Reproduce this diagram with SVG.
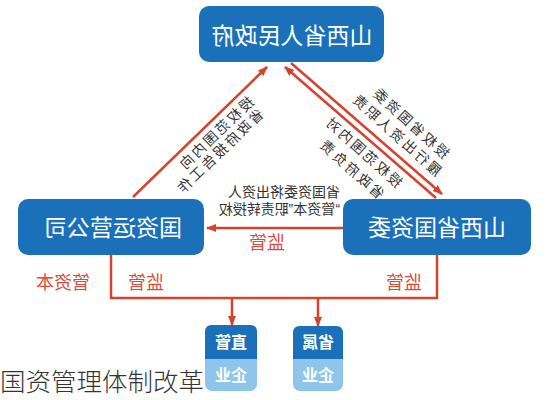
<svg xmlns="http://www.w3.org/2000/svg" width="547" height="400" viewBox="0 0 547 400">
<defs>
<style>
.box{fill:#1a71b9;}
.lb{fill:#8ec5ea;}
.bt{font-family:"Noto Sans CJK SC",sans-serif;fill:#fff;font-size:23px;text-anchor:middle;}
.st{font-family:"Noto Sans CJK SC",sans-serif;fill:#fff;font-size:16px;font-weight:bold;text-anchor:middle;}
.ln{stroke:#d5432f;stroke-width:2.5;fill:none;}
.rl{font-family:"Noto Sans CJK SC",sans-serif;fill:#db4b3b;font-size:18px;text-anchor:middle;}
.gl{font-family:"Liberation Sans","Noto Sans CJK SC",sans-serif;fill:#333;font-size:14px;dominant-baseline:central;}
.dl{font-family:"Noto Sans CJK SC",sans-serif;fill:#333;font-size:14px;text-anchor:middle;dominant-baseline:central;letter-spacing:2.5px;}
</style>
<marker id="ah" markerWidth="10" markerHeight="10" refX="9" refY="5" orient="auto" markerUnits="userSpaceOnUse"><path d="M0,1 L10,5 L0,9 z" fill="#d5432f"/></marker>
</defs>
<rect width="547" height="400" fill="#fff"/>

<g id="connectors">
<line class="ln" x1="133" y1="197" x2="267" y2="67" marker-end="url(#ah)"/>
<line class="ln" x1="436" y1="198" x2="285" y2="67" marker-end="url(#ah)"/>
<line class="ln" x1="291" y1="63" x2="442" y2="194" marker-end="url(#ah)"/>
<line class="ln" x1="343" y1="228" x2="207" y2="228" marker-end="url(#ah)"/>
<polyline class="ln" points="111,255 111,298 437,298 437,255"/>
<line class="ln" x1="232" y1="298" x2="232" y2="325" marker-end="url(#ah)"/>
<line class="ln" x1="318" y1="298" x2="318" y2="326" marker-end="url(#ah)"/>
</g>

<g id="labels">
<text class="dl" transform="translate(215,133) scale(-1,1) rotate(44)">授权范围内向</text>
<text class="dl" transform="translate(219,151) scale(-1,1) rotate(44)">省政府报告工作</text>
<text class="dl" transform="translate(411,122) scale(-1,1) rotate(-42)">授权省国资委</text>
<text class="dl" transform="translate(397,134) scale(-1,1) rotate(-42)">履行出资人职责</text>
<text class="dl" transform="translate(364,151) scale(-1,1) rotate(-42)">授权范围内对</text>
<text class="dl" transform="translate(352,168) scale(-1,1) rotate(-42)">省政府负责</text>
<text class="gl" transform="translate(340,192) scale(-1,1)">省国资委将出资人</text>
<text class="gl" transform="translate(340,209) scale(-1,1)">“管资本”职责转授权</text>
<text class="rl" transform="translate(267,249) scale(-1,1)">监管</text>
<text class="rl" transform="translate(63,289) scale(-1,1)">管资本</text>
<text class="rl" transform="translate(146,289) scale(-1,1)">监管</text>
<text class="rl" transform="translate(404,289) scale(-1,1)">监管</text>
</g>

<g id="gov">
<rect class="box" x="199" y="6" width="185" height="56" rx="10"/>
<text class="bt" transform="translate(292,44) scale(-1,1)">山西省人民政府</text>
</g>
<g id="company">
<rect class="box" x="18" y="199" width="186" height="56" rx="10"/>
<text class="bt" transform="translate(113,236) scale(-1,1)">国资运营公司</text>
</g>
<g id="sasac">
<rect class="box" x="343" y="199" width="188" height="56" rx="10"/>
<text class="bt" transform="translate(437,236) scale(-1,1)">山西省国资委</text>
</g>
<g id="direct">
<rect class="lb" x="205" y="325" width="52" height="66" rx="7"/>
<path class="box" d="M205,359 V332 Q205,325 212,325 H250 Q257,325 257,332 V359 Z"/>
<text class="st" transform="translate(231,348) scale(-1,1)">直管</text>
<text class="st" transform="translate(231,381) scale(-1,1)">企业</text>
</g>
<g id="provincial">
<rect class="lb" x="293" y="326" width="50" height="65" rx="7"/>
<path class="box" d="M293,359 V333 Q293,326 300,326 H336 Q343,326 343,333 V359 Z"/>
<text class="st" transform="translate(318,348) scale(-1,1)">省属</text>
<text class="st" transform="translate(318,381) scale(-1,1)">企业</text>
</g>
<text x="0" y="391" font-family="Noto Sans CJK SC, sans-serif" font-size="25.5" font-weight="300" fill="#333">国资管理体制改革</text>
</svg>
